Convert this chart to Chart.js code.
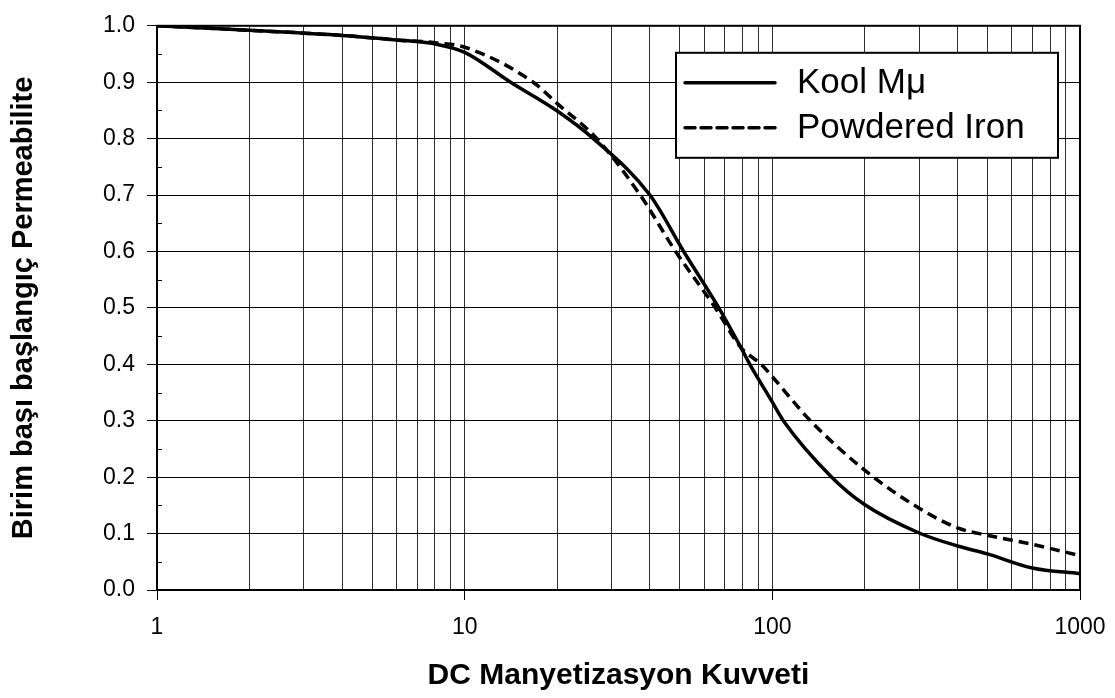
<!DOCTYPE html>
<html>
<head>
<meta charset="utf-8">
<title>Kool Mu vs Powdered Iron</title>
<script src="https://cdn.jsdelivr.net/npm/chart.js@4"></script>
<style>
  html, body { margin: 0; padding: 0; background: #fff; }
  #wrap { width: 1115px; height: 698px; position: relative; }
</style>
</head>
<body>
<div id="wrap"><canvas id="permChart"></canvas></div>
<script>
// DC field (x) and per-unit initial permeability (y)
const koolField = [1, 2, 4, 6, 8, 10, 14.1, 20, 26.2, 40, 51.5, 67, 79, 84.5, 100, 108.6, 156, 200, 300, 400, 500, 700, 1000];
const koolPerm  = [1.0, 0.992, 0.983, 0.975, 0.968, 0.953, 0.90, 0.849, 0.80, 0.70, 0.60, 0.50, 0.43, 0.40, 0.333, 0.30, 0.20, 0.151, 0.101, 0.078, 0.064, 0.039, 0.029];

const ironField = [1, 2, 4, 6, 8, 10, 16.7, 20, 26.9, 37.2, 48.5, 65.3, 79, 92, 100, 133, 200, 300, 400, 500, 700, 1000];
const ironPerm  = [1.0, 0.992, 0.983, 0.975, 0.970, 0.962, 0.90, 0.862, 0.80, 0.70, 0.60, 0.50, 0.43, 0.40, 0.378, 0.30, 0.212, 0.145, 0.110, 0.097, 0.081, 0.061];

const seriesNames = ['Kool Mμ', 'Powdered Iron'];
const xTickLabels = [1, 10, 100, 1000];
const yTickStep = 0.1;
const xTitle = 'DC Manyetizasyon Kuvveti';
const yTitle = 'Birim başı başlangıç Permeabilite';

const FONT = "'Liberation Sans', Arial, sans-serif";

function toPoints(xs, ys) {
  return xs.map((x, i) => ({ x: x, y: ys[i] }));
}

// every 1..9 x 10^k line of the log grid
const xGridValues = [];
xTickLabels.forEach((d, i) => {
  if (i === xTickLabels.length - 1) { xGridValues.push(d); return; }
  for (let m = 1; m < 10; m++) xGridValues.push(d * m);
});

// y ticks every half step, labels only on the full steps
const yGridValues = [];
for (let i = 0; i <= 20; i++) yGridValues.push(Math.round(i * yTickStep / 2 * 100) / 100);
const isFullStep = (v) => Math.abs(v * 10 - Math.round(v * 10)) < 1e-6;

// frame, inner minor ticks and the boxed legend
const framePlugin = {
  id: 'frame',
  afterDraw(chart) {
    const { ctx, chartArea: a } = chart;
    const yScale = chart.scales.y;
    ctx.save();
    ctx.strokeStyle = '#000';
    ctx.lineWidth = 2;
    ctx.strokeRect(a.left, a.top, a.right - a.left, a.bottom - a.top);

    ctx.lineWidth = 1;
    yGridValues.forEach((v) => {
      if (isFullStep(v)) return;
      const y = Math.round(yScale.getPixelForValue(v)) + 0.5;
      ctx.beginPath();
      ctx.moveTo(a.left, y);
      ctx.lineTo(a.left + 5, y);
      ctx.stroke();
    });

    // legend box
    const bx = a.right - 404, by = a.top + 27, bw = 382, bh = 105;
    ctx.fillStyle = '#fff';
    ctx.fillRect(bx, by, bw, bh);
    ctx.lineWidth = 2;
    ctx.strokeRect(bx, by, bw, bh);

    ctx.font = '35px ' + FONT;
    ctx.textBaseline = 'middle';
    chart.data.datasets.forEach((ds, i) => {
      const ry = by + 30 + i * 45;
      ctx.strokeStyle = '#000';
      ctx.lineWidth = 3.5;
      ctx.lineCap = 'round';
      ctx.setLineDash(ds.borderDash || []);
      ctx.beginPath();
      ctx.moveTo(bx + 9, ry);
      ctx.lineTo(bx + 99, ry);
      ctx.stroke();
      ctx.setLineDash([]);
      ctx.fillStyle = '#000';
      ctx.fillText(ds.label, bx + 121, ry + 1);
    });
    ctx.restore();
  }
};

new Chart(document.getElementById('permChart'), {
  type: 'line',
  data: {
    datasets: [
      {
        label: seriesNames[0],
        data: toPoints(koolField, koolPerm),
        borderColor: '#000',
        borderWidth: 3.5,
        pointRadius: 0,
        cubicInterpolationMode: 'monotone',
        fill: false,
      },
      {
        label: seriesNames[1],
        data: toPoints(ironField, ironPerm),
        borderColor: '#000',
        borderWidth: 3.5,
        borderDash: [10, 6],
        pointRadius: 0,
        cubicInterpolationMode: 'monotone',
        fill: false,
      },
    ],
  },
  options: {
    responsive: true,
    maintainAspectRatio: false,
    animation: false,
    layout: {
      padding: { top: 15, right: 35, left: 0, bottom: 0 },
    },
    plugins: {
      legend: { display: false },
      tooltip: { enabled: false },
    },
    scales: {
      x: {
        type: 'logarithmic',
        min: 1,
        max: 1000,
        afterBuildTicks: (scale) => {
          scale.ticks = xGridValues.map((v) => ({ value: v }));
        },
        afterFit: (scale) => {
          scale.height = 108;
          scale.paddingLeft = 0;
          scale.paddingRight = 0;
        },
        ticks: {
          autoSkip: false,
          maxRotation: 0,
          color: '#000',
          padding: 14,
          font: { family: FONT, size: 23 },
          callback: (v) => (xTickLabels.includes(v) ? String(v) : ''),
        },
        grid: {
          color: '#2e2e2e',
          lineWidth: 1,
          tickLength: 10,
          tickColor: (c) => (c.tick && xTickLabels.includes(c.tick.value) ? '#000' : 'rgba(0,0,0,0)'),
        },
        border: { color: '#000', width: 2 },
        title: {
          display: true,
          text: xTitle,
          color: '#000',
          font: { family: FONT, size: 30, weight: 'bold' },
          padding: { top: 0, bottom: 4 },
        },
      },
      y: {
        min: 0,
        max: 1,
        afterBuildTicks: (scale) => {
          scale.ticks = yGridValues.map((v) => ({ value: v }));
        },
        afterFit: (scale) => { scale.width = 157; },
        ticks: {
          autoSkip: false,
          color: '#000',
          padding: 12,
          font: { family: FONT, size: 23 },
          callback: (v) => (isFullStep(v) ? v.toFixed(1) : ''),
        },
        grid: {
          color: (c) => (c.tick && isFullStep(c.tick.value) ? '#000' : 'rgba(0,0,0,0)'),
          lineWidth: 1,
          tickLength: 10,
          tickColor: (c) => (c.tick && isFullStep(c.tick.value) ? '#000' : 'rgba(0,0,0,0)'),
        },
        border: { color: '#000', width: 2 },
        title: {
          display: true,
          text: yTitle,
          color: '#000',
          font: { family: FONT, size: 29, weight: 'bold' },
          padding: { top: 7, bottom: 0 },
        },
      },
    },
  },
  plugins: [framePlugin],
});
</script>
</body>
</html>
